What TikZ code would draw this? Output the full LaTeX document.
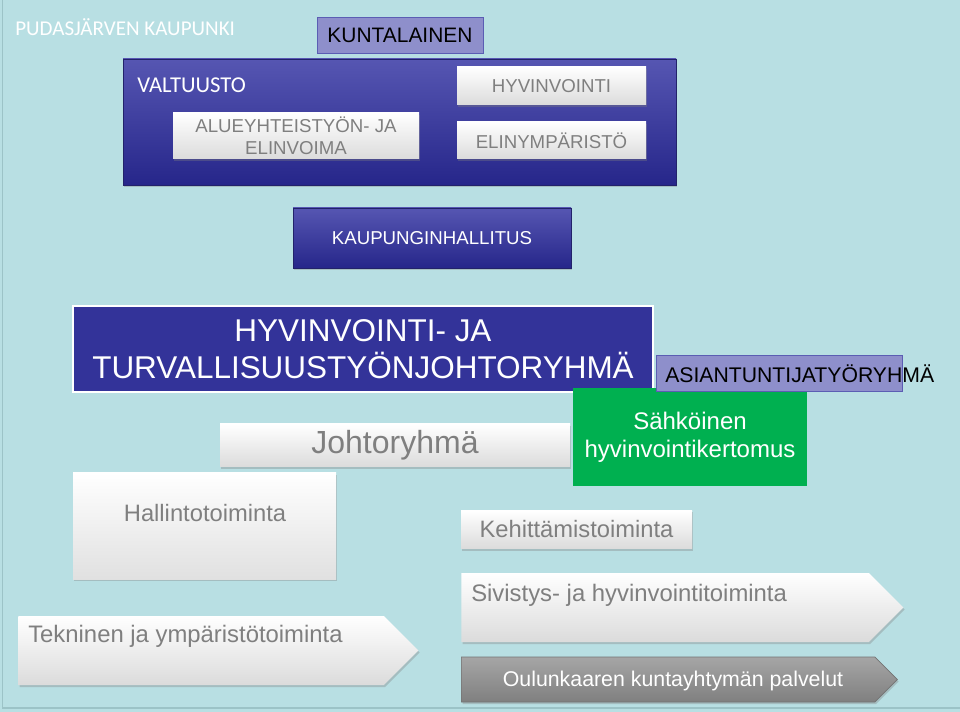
\documentclass[tikz,border=0pt]{standalone}
\usepackage{fontspec}
\setmainfont{Liberation Sans}
\newfontfamily\calibrifont{Carlito}
\usetikzlibrary{shadows,shapes.symbols}
\definecolor{bg}{HTML}{B8DFE3}
\definecolor{bgline}{HTML}{9CC3C7}
\definecolor{lav}{HTML}{8E8FCB}
\definecolor{lavline}{HTML}{5B5DB3}
\definecolor{navy}{HTML}{333399}
\definecolor{navytop}{HTML}{5656B2}
\definecolor{navymid}{HTML}{2F2F99}
\definecolor{navybot}{HTML}{26268A}
\definecolor{navyline}{HTML}{22226A}
\definecolor{grtext}{HTML}{7F7F7F}
\definecolor{green}{HTML}{00B050}
\definecolor{oul}{HTML}{8F8F8F}
\tikzset{
  sz/.style 2 args={minimum width=#1*0.75pt, minimum height=#2*0.75pt, inner sep=0pt},
  shad/.style={drop shadow={opacity=0.35, shadow xshift=1pt, shadow yshift=-1.5pt}},
  navybox/.style={shad, draw=navyline, line width=0.6pt, top color=navytop, middle color=navymid, bottom color=navybot, text=white, align=center},
  whitebox/.style={shad, draw=none, top color=white, middle color=white, bottom color=black!14, text=grtext, align=center},
  lavbox/.style={draw=lavline, line width=0.6pt, fill=lav},
  arrowbox/.style={shape=signal, signal to=east, signal from=nowhere, signal pointer angle=90, shad, anchor=west},
  txt/.style={inner sep=0pt},
}
\begin{document}
\begin{tikzpicture}[x=0.75pt,y=-0.75pt]
\fill[bg] (0,0) rectangle (960,712);
\useasboundingbox (0,0) rectangle (960,712);
\draw[bgline, line width=1.2pt] (2.5,0) -- (2.5,708) -- (960,708);

\node[txt, anchor=west, text=white, font=\calibrifont\fontsize{15.8}{19}\selectfont] (city) at (15,27) {PUDASJÄRVEN KAUPUNKI};

\node[lavbox, sz={166}{36}, font=\fontsize{15.7}{19}\selectfont] (kunta) at (400,35) {KUNTALAINEN};

\node[navybox, sz={553}{126}] (valt) at (399.5,122) {};
\node[txt, anchor=west, text=white, font=\calibrifont\fontsize{17}{20}\selectfont] (valtt) at (137,85) {VALTUUSTO};
\node[whitebox, sz={189}{38}, font=\fontsize{14}{16.5}\selectfont] (hyv) at (551.5,86) {HYVINVOINTI};
\node[whitebox, sz={246}{46}, font=\fontsize{14}{16.5}\selectfont] (alue) at (296,136) {ALUEYHTEISTYÖN- JA\\ELINVOIMA};
\node[whitebox, sz={189}{37}, font=\fontsize{14}{16.5}\selectfont] (elin) at (551.5,140.5) {ELINYMPÄRISTÖ};

\node[navybox, sz={278}{60}, font=\fontsize{14}{16.5}\selectfont] (kh) at (432,238) {KAUPUNGINHALLITUS};

\node[draw=white, line width=1.2pt, fill=navy, text=white, align=center, sz={580}{86}, font=\fontsize{23.6}{27.5}\selectfont] (htr) at (363,349) {HYVINVOINTI- JA\\TURVALLISUUSTYÖNJOHTORYHMÄ};

\node[fill=green, text=white, align=center, sz={234}{98}, font=\fontsize{18}{21}\selectfont] (shk) at (690,437) {Sähköinen\\hyvinvointikertomus};

\node[lavbox, sz={246}{36}] (asi) at (779,373) {};
\node[txt, anchor=west, font=\fontsize{15.9}{19}\selectfont] (asit) at (665,373.5) {ASIANTUNTIJATYÖRYHMÄ};

\node[whitebox, sz={350}{43}, font=\fontsize{24}{28}\selectfont] (joht) at (395,445.5) {Johtoryhmä};

\node[whitebox, top color=white, middle color=white!96!black, bottom color=black!12, sz={263}{106}] (hal) at (204.5,526) {};
\node[txt, text=grtext, font=\fontsize{17.8}{21}\selectfont] (halt) at (205,513) {Hallintotoiminta};

\node[whitebox, sz={231}{38}, font=\fontsize{17.8}{21}\selectfont] (keh) at (576.5,529.5) {Kehittämistoiminta};

\node[arrowbox, top color=white, middle color=white, bottom color=black!14, sz={442}{69}] (siv) at (461,607.5) {};
\node[txt, anchor=west, text=grtext, font=\fontsize{17.9}{21}\selectfont] (sivt) at (471,595) {Sivistys- ja hyvinvointitoiminta};

\node[arrowbox, top color=white, middle color=white, bottom color=black!14, sz={400}{69}] (tek) at (18,650.5) {};
\node[txt, anchor=west, text=grtext, font=\fontsize{17.9}{21}\selectfont] (tekt) at (28,636) {Tekninen ja ympäristötoiminta};

\node[arrowbox, top color=black!35, middle color=oul, bottom color=black!50, draw=black!55, line width=0.5pt, sz={436}{45}] (oul) at (461,679.5) {};
\node[txt, text=white, font=\fontsize{16}{19}\selectfont] (oult) at (673,681) {Oulunkaaren kuntayhtymän palvelut};
\end{tikzpicture}
\end{document}
